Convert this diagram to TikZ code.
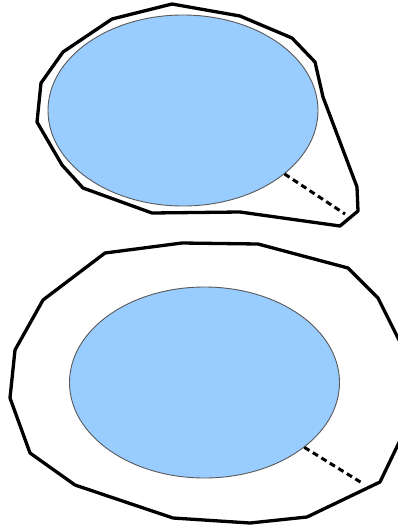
\documentclass[tikz,border=0pt]{standalone}
\usetikzlibrary{shapes.geometric}
\definecolor{poolblue}{RGB}{153,204,255}
\begin{document}
\begin{tikzpicture}[
    x=1pt, y=-1pt,
    pool/.style={ellipse, draw=black!65, fill=poolblue, line width=0.9pt, minimum width=270pt, minimum height=191pt, inner sep=0pt},
    rim/.style={draw=black, line width=3.3pt, line join=round},
    gap/.style={draw=black, line width=3pt, dash pattern=on 6pt off 4pt}
]
\useasboundingbox (0,0) rectangle (398,528);
% upper basin
\draw[rim] (172,4) -- (240,16) -- (292,38) -- (315,62) -- (323,97) -- (357,187) -- (358,211)
  -- (340,226) -- (240,212) -- (152,213) -- (83,188) -- (62,165) -- (37,122) -- (41,83)
  -- (63,52) -- (112,19) -- cycle;
\node[pool] (p1) at (183,110.5) {};
\coordinate (c1) at (345,214);
\draw[gap] (p1.-32) -- (c1);
% lower basin
\draw[rim] (105,253) -- (182,243) -- (258,244) -- (348,268) -- (378,298) -- (404,350)
  -- (406,428) -- (380,482) -- (307,517) -- (250,523) -- (173,518) -- (75,485) -- (30,453)
  -- (10,398) -- (15,350) -- (43,300) -- cycle;
\node[pool] (p2) at (204.5,382.5) {};
\coordinate (c2) at (362,483);
\draw[gap] (p2.-33) -- (c2);
\end{tikzpicture}
\end{document}
